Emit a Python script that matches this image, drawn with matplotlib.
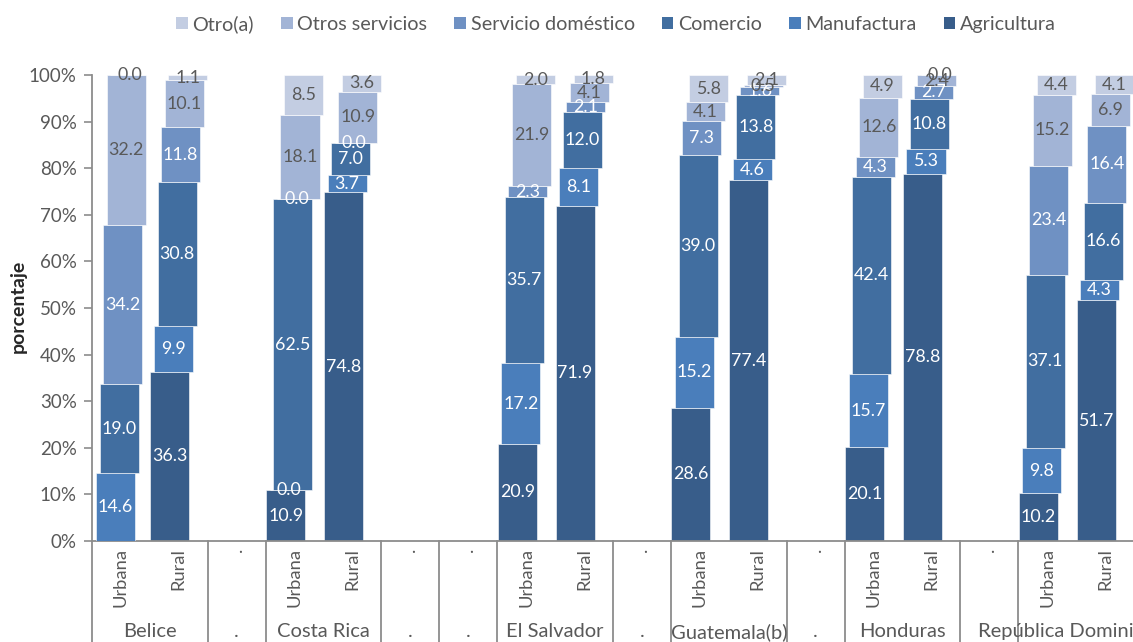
import numpy as np
import matplotlib
matplotlib.use("Agg")
import matplotlib.pyplot as plt
from matplotlib.patches import Patch

plt.rcParams['font.family'] = ['Lato', 'DejaVu Sans']

series = ['Agricultura', 'Manufactura', 'Comercio', 'Servicio doméstico',
          'Otros servicios', 'Otro(a)']
colors = ['#385D8A', '#4A7EBB', '#416EA0', '#6F91C3', '#A2B4D6', '#C3CDE2']
label_colors = ['white', 'white', 'white', 'white', '#595959', '#595959']

countries = ['Belice', 'Costa Rica', 'El Salvador', 'Guatemala(b)', 'Honduras',
             'República Dominicana']
zones = ['Urbana', 'Rural']

# slot index of every bar, 18 slots in total ('.' slots are empty)
slots = [0, 1, 3, 4, 7, 8, 10, 11, 13, 14, 16, 17]
dot_slots = [2, 5, 6, 9, 12, 15]
country_slots = [0.5, 3.5, 7.5, 10.5, 13.5, 16.5]

# values per bar (Belice U, Belice R, CR U, CR R, ...)
agricultura = [np.nan, 36.3, 10.9, 74.8, 20.9, 71.9, 28.6, 77.4, 20.1, 78.8, 10.2, 51.7]
manufactura = [14.6, 9.9, 0.0, 3.7, 17.2, 8.1, 15.2, 4.6, 15.7, 5.3, 9.8, 4.3]
comercio = [19.0, 30.8, 62.5, 7.0, 35.7, 12.0, 39.0, 13.8, 42.4, 10.8, 37.1, 16.6]
serv_domestico = [34.2, 11.8, 0.0, 0.0, 2.3, 2.1, 7.3, 1.6, 4.3, 2.7, 23.4, 16.4]
otros_servicios = [32.2, 10.1, 18.1, 10.9, 21.9, 4.1, 4.1, 0.5, 12.6, 2.4, 15.2, 6.9]
otro = [0.0, 1.1, 8.5, 3.6, 2.0, 1.8, 5.8, 2.1, 4.9, 0.0, 4.4, 4.1]

data = [agricultura, manufactura, comercio, serv_domestico, otros_servicios, otro]

W, H = 1133, 642
fig = plt.figure(figsize=(W / 100, H / 100), dpi=100)
ax = fig.add_axes([92 / W, (642 - 541) / H, 1042 / W, 466 / H])

x = np.array(slots, dtype=float)
bottom = np.zeros(len(slots))
width = 0.674
shift = 0.062
for i, vals in enumerate(data):
    v = np.array(vals, dtype=float)
    xi = x + (i - 2.5) * shift
    h = np.nan_to_num(v)
    ax.bar(xi, h, width=width, bottom=bottom, color=colors[i],
           edgecolor='white', linewidth=0.4, zorder=2 + i)
    for xx, b, val in zip(xi, bottom, v):
        if np.isnan(val):
            continue
        ax.text(xx, b + val / 2, f'{val:.1f}', ha='center', va='center',
                fontsize=12.8, color=label_colors[i], zorder=10)
    bottom = bottom + h

ax.set_xlim(-0.5, 17.5)
ax.set_ylim(0, 100)
ax.set_yticks(np.arange(0, 101, 10))
ax.set_yticklabels([f'{t}%' for t in range(0, 101, 10)])
ax.set_xticks([])
ax.tick_params(axis='y', direction='out', length=6, width=1.2, color='#8c8c8c',
               labelsize=13.5, labelcolor='#595959', pad=5)
for s in ['top', 'right']:
    ax.spines[s].set_visible(False)
for s in ['left', 'bottom']:
    ax.spines[s].set_color('#8c8c8c')
    ax.spines[s].set_linewidth(1.3)

# two level category axis
tr = ax.get_xaxis_transform()
for sx in slots:
    zone = zones[slots.index(sx) % 2]
    ax.text(sx, -0.015, zone, transform=tr, rotation=90, ha='center', va='top',
            fontsize=13.2, color='#595959', clip_on=False)
for sx in dot_slots:
    ax.text(sx, -0.015, '.', transform=tr, rotation=90, ha='center', va='top',
            fontsize=13.2, color='#595959', clip_on=False)
    ax.text(sx, -0.195, '.', transform=tr, ha='center', va='center',
            fontsize=14.5, color='#595959', clip_on=False)
for cx, name in zip(country_slots, countries):
    ax.text(cx, -0.195, name, transform=tr, ha='center', va='center',
            fontsize=14.5, color='#595959', clip_on=False)

separators = [0, 2, 3, 5, 6, 7, 9, 10, 12, 13, 15, 16]
for sp in separators:
    ax.plot([sp - 0.5, sp - 0.5], [0, -0.22], transform=tr, color='#8c8c8c',
            lw=1.3, clip_on=False)

fig.text(18 / W, 1 - 306 / H, 'porcentaje', rotation=90, ha='center', va='center',
         fontsize=14, fontweight='bold', color='#262626')

handles = [Patch(facecolor=colors[i], label=series[i]) for i in range(5, -1, -1)]
leg = fig.legend(handles=handles, loc='center', bbox_to_anchor=(616 / W, 1 - 24 / H),
                 ncol=6, frameon=False, fontsize=14.2, handlelength=0.6,
                 handleheight=0.6, handletextpad=0.25, columnspacing=1.35)
for t in leg.get_texts():
    t.set_color('#595959')

fig.savefig('out.png', dpi=100)
